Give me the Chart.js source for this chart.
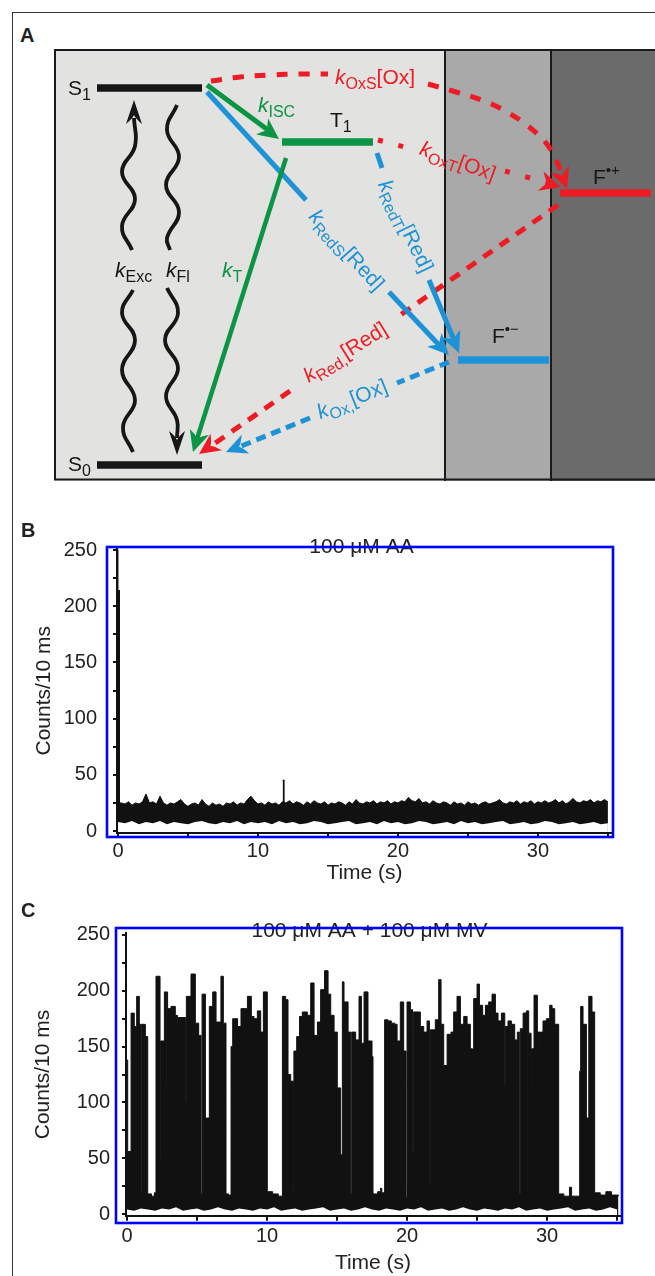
<!DOCTYPE html>
<html><head><meta charset="utf-8">
<script src="https://cdn.jsdelivr.net/npm/chart.js@4.4.1/dist/chart.umd.min.js"></script>
<style>
html,body{margin:0;padding:0;background:#fff;}
body{width:655px;height:1276px;position:relative;overflow:hidden;font-family:"Liberation Sans",Arial,sans-serif;}
#outer{position:absolute;left:12px;top:12px;width:700px;height:1300px;border-left:1.3px solid #333;border-top:1.3px solid #333;}
.lab{position:absolute;font-weight:bold;font-size:20px;line-height:20px;color:#222;z-index:5;}
canvas{position:absolute;}
</style></head><body>
<div id="outer"></div>
<canvas id="ca" width="601" height="432" style="left:54px;top:49px"></canvas>
<canvas id="cb" width="655" height="390" style="left:0;top:500px"></canvas>
<canvas id="cc" width="655" height="396" style="left:0;top:880px"></canvas>
<div class="lab" style="left:20px;top:25px">A</div>
<div class="lab" style="left:21px;top:520px">B</div>
<div class="lab" style="left:21px;top:900px">C</div>
<script>
// ================= DATA =================
// ---- Panel A: diagram (diagram coordinates, x to the right, y downward) ----
const zoneEdges = [54, 445, 551, 655];
const levelNames = ['S1', 'S0', 'T1', 'F•−', 'F•+'];
const levelStart = [97, 97, 282, 458, 560];
const levelEnd = [202, 202, 373, 549, 651];
const levelHeight = [88, 465, 142, 360, 193];

const excUpper = [[132,250],[122,226],[135,199],[122,172],[135,146],[134,118]];
const excLower = [[133,452],[123,427],[135,400],[122,370],[135,340],[122,313],[133,290]];
const flUpper = [[177,105],[167,130],[179,157],[166,185],[179,212],[167,238],[170,250]];
const flLower = [[167,288],[178,313],[165,340],[178,368],[166,396],[177,420],[177,438]];
const iscPath = [[207,85],[268,130]];
const tPath = [[286,158],[197,439]];
const redS1Path = [[207,92],[306,200]];
const redS2Path = [[389,292],[440,346]];
const redT1Path = [[377,153],[382,168]];
const redT2Path = [[429,280],[454,340]];
const oxPrime1Path = [[449,362],[397,383]];
const oxPrime2Path = [[310,418],[239,447]];
const redPrime1Path = [[558,205],[396,318]];
const redPrime2Path = [[290,391],[211,446]];
const oxS1Path = [[211,81],[240,77],[270,75],[300,74],[328,74]];
const oxS2Path = [[428,84],[456,92],[484,101],[507,112],[528,126],[546,143],[557,162],[562,175]];
const oxT1Path = [[378,140],[412,149]];
const oxT2Path = [[505,171],[548,183]];

const arrowFrom = [[134,130],[177,430],[207,85],[286,158],[389,292],[429,280],[449,362],[558,205],[557,162],[505,171]];
const arrowTip  = [[134,100],[177,455],[279,139],[193,452],[449,355],[459,353],[226,452],[199,454],[567,189],[561,187]];
const arrowHue  = ['k','k','g','g','b','b','b','r','r','r'];

const labelParts = [
  [['S','m'],['1','s']],
  [['S','m'],['0','s']],
  [['T','m'],['1','s']],
  [['F','m'],['•+','p']],
  [['F','m'],['•−','p']],
  [['k','i'],['Exc','s']],
  [['k','i'],['Fl','s']],
  [['k','i'],['ISC','s']],
  [['k','i'],['T','s']],
  [['k','i'],['OxS','s'],['[Ox]','m']],
  [['k','i'],['OxT','s'],['[Ox]','m']],
  [['k','i'],['RedS','s'],['[Red]','m']],
  [['k','i'],['RedT','s'],['[Red]','m']],
  [['k','i'],['Red,','s'],['[Red]','m']],
  [['k','i'],['Ox,','s'],['[Ox]','m']]
];
const labelX = [68, 68, 330, 593, 492, 115, 166, 258, 222, 335, 458, 347, 406, 345, 352];
const labelY = [95, 471, 127, 184, 343, 277, 277, 112, 277, 84, 161, 250, 226, 352, 399];
const labelAngle = [0,0,0,0,0,0,0,0,0,0,20,48,64,-32,-22];
const labelCentered = [0,0,0,0,0,0,0,0,0,0,1,1,1,1,1];
const labelHue = ['k','k','k','k','k','k','k','g','g','r','r','b','b','r','b'];

// ---- Panel B: 100 µM AA ----
const bTitle = '100 μM AA';
const bXTicks = [0,5,10,15,20,25,30,35];
const bXLabels = ['0','','10','','20','','30',''];
const bYTicks = [0,25,50,75,100,125,150,175,200,225,250];
const bYLabels = ['0','','50','','100','','150','','200','','250'];
const bStart = 0, bStep = 0.25;       // baseline trace sampled every 0.25 s
const bHigh = [25,25,24,26,23,25,24,26,33,25,
  26,24,31,25,23,25,24,26,28,24,
  22,24,25,23,28,24,22,25,23,24,
  22,25,24,26,23,25,24,28,31,27,
  24,25,23,26,24,25,23,26,25,27,
  24,26,25,23,26,24,27,25,24,26,
  23,25,24,26,25,23,26,24,28,25,
  24,26,25,27,24,26,25,27,24,26,
  25,27,26,30,27,26,29,25,26,24,
  27,25,24,26,25,23,26,24,25,23,
  26,24,25,23,25,26,24,25,26,28,
  25,24,26,25,27,24,26,25,27,24,
  26,25,27,25,26,28,25,27,24,26,
  29,26,25,27,26,28,25,27,26,28,
  26];
const bLowStep = 0.5;
const bLow = [8,7,9,6,8,7,9,6,8,7,
  6,8,9,7,6,8,7,9,6,8,
  7,8,6,9,7,8,6,7,9,8,
  6,7,8,9,6,7,8,6,9,7,
  8,6,7,9,8,6,7,8,6,9,
  7,8,6,7,8,9,6,7,8,6,
  7,9,8,6,7,8,6,7,8,6,
  7];
const bSpikeTime = [-0.1, -0.01, 0.1, 0.12, 11.76, 11.86, 11.88];
const bSpikeCounts = [250, 214, 24, null, 45, 22, null];

// ---- Panel C: 100 µM AA + 100 µM MV ----
const cTitle = '100 μM AA + 100 μM MV';
const cXTicks = [0,5,10,15,20,25,30,35];
const cXLabels = ['0','','10','','20','','30',''];
const cYTicks = [0,25,50,75,100,125,150,175,200,225,250];
const cYLabels = ['0','','50','','100','','150','','200','','250'];
const cTime = [
  -0.07,0.05,0.29,0.52,0.69,0.88,1.00,1.05,1.24,1.28,
  1.31,1.48,1.75,1.95,2.07,2.36,2.38,2.42,2.67,2.79,
  2.83,2.90,3.14,3.45,3.60,3.64,4.20,4.24,4.57,4.88,
  5.12,5.29,5.36,5.60,5.88,6.12,6.36,6.71,6.88,7.07,
  7.25,7.43,7.55,7.90,8.14,8.60,8.88,9.07,9.31,9.55,
  9.74,10.02,10.40,10.80,11.10,11.33,11.50,11.69,11.88,11.92,
  12.12,12.29,12.32,12.52,12.88,13.12,13.36,13.60,13.83,14.07,
  14.11,14.36,14.55,14.79,15.02,15.26,15.38,15.50,15.79,15.98,
  16.05,16.33,16.57,16.74,16.93,17.21,17.50,17.57,17.90,18.10,
  18.20,18.40,18.64,18.88,19.12,19.29,19.52,19.76,19.93,20.00,
  20.24,20.40,20.44,20.95,21.19,21.43,21.60,21.67,22.02,22.26,
  22.43,22.62,22.86,23.10,23.14,23.33,23.57,23.81,24.05,24.29,
  24.52,24.64,24.68,24.76,25.00,25.17,25.40,25.60,25.83,26.07,
  26.31,26.50,26.74,26.98,27.02,27.21,27.45,27.69,27.88,28.02,
  28.09,28.29,28.52,28.69,28.86,28.90,29.07,29.31,29.50,29.54,
  29.71,29.95,30.19,30.36,30.55,30.83,31.20,31.60,31.75,32.33,
  32.40,32.57,32.81,32.98,33.21,33.40,33.80,34.20,34.60,35.10];
const cCounts = [
  138,56,180,168,195,170,20,170,30,170,
  159,18,16,19,213,155,50,155,199,118,
  199,184,186,178,83,176,101,195,215,171,
  160,18,197,86,186,199,172,213,171,18,
  17,150,175,168,184,195,177,175,182,163,
  199,20,18,16,195,192,125,119,20,146,
  159,30,177,181,178,207,160,172,201,77,
  218,197,178,163,113,53,208,190,163,18,
  163,156,195,153,199,155,141,18,20,23,
  19,174,173,171,170,155,190,146,15,190,
  183,56,181,168,163,173,26,165,174,210,
  170,133,161,65,163,181,195,170,177,170,
  148,65,148,193,206,187,178,187,190,197,
  180,173,180,116,168,173,170,156,163,18,
  166,180,182,162,116,148,196,163,146,163,
  173,175,187,184,170,18,16,24,16,128,
  186,170,86,195,181,19,17,20,17,16];
const cLowStep = 0.5;
const cLow = [4,3,5,4,3,5,4,6,3,4,
  5,3,4,6,4,3,5,4,3,5,
  4,6,3,4,5,3,4,5,6,3,
  4,5,3,4,6,4,3,5,4,3,
  5,4,6,3,4,5,3,4,6,4,
  3,5,4,3,5,4,6,3,4,5,
  3,4,5,6,3,4,5,3,4,6,
  4];

// ================= STYLE / RENDER =================
const FONT = '"Liberation Sans", Arial, Helvetica, sans-serif';
Chart.defaults.font.family = FONT;
Chart.defaults.color = '#222';
const HUE = {k:'#161616', r:'#ed1c24', g:'#0b9444', b:'#1e92d6'};
const levelHue = ['k','k','g','b','r'];
const zoneFill = ['#e2e2e0','#a9a9a9','#6b6b6b'];

function P(arr){ return arr.map(p => ({x:p[0], y:p[1]})); }
function path(arr, hue, w, extra){
  return Object.assign({data:P(arr), borderColor:HUE[hue], borderWidth:w, pointRadius:0, pointHoverRadius:0, fill:false, tension:0, borderCapStyle:'butt'}, extra||{});
}
const styleFont = {i:'italic 21px '+FONT, m:'21px '+FONT, s:'16px '+FONT, p:'15px '+FONT};
const styleDy = {i:0, m:0, s:5, p:-9};
function drawRich(ctx, parts, x, y, angle, color, centered){
  ctx.save(); ctx.translate(x,y); ctx.rotate(angle*Math.PI/180);
  ctx.fillStyle = color; ctx.textBaseline = 'alphabetic'; ctx.textAlign = 'left';
  let w = 0;
  for (const [t,s] of parts){ ctx.font = styleFont[s]; w += ctx.measureText(t).width; }
  let cx = centered ? -w/2 : 0; const by = centered ? 7 : 0;
  for (const [t,s] of parts){ ctx.font = styleFont[s]; ctx.fillText(t, cx, by + styleDy[s]); cx += ctx.measureText(t).width; }
  ctx.restore();
}
function arrowHead(ctx, f, t, color, L, W, N){
  const dx = t[0]-f[0], dy = t[1]-f[1], len = Math.hypot(dx,dy);
  const ux = dx/len, uy = dy/len, nx = -uy, ny = ux;
  ctx.beginPath();
  ctx.moveTo(t[0], t[1]);
  ctx.lineTo(t[0]-ux*L+nx*W, t[1]-uy*L+ny*W);
  ctx.quadraticCurveTo(t[0]-ux*(L-N*0.6)+nx*W*0.2, t[1]-uy*(L-N*0.6)+ny*W*0.2, t[0]-ux*(L-N), t[1]-uy*(L-N));
  ctx.quadraticCurveTo(t[0]-ux*(L-N*0.6)-nx*W*0.2, t[1]-uy*(L-N*0.6)-ny*W*0.2, t[0]-ux*L-nx*W, t[1]-uy*L-ny*W);
  ctx.closePath(); ctx.fillStyle = color; ctx.fill();
}

const diagramPlugin = {
  id:'diagram',
  beforeDatasetsDraw(chart){
    const {ctx, scales:{x, y}} = chart;
    const top = y.getPixelForValue(49), bot = y.getPixelForValue(481);
    ctx.save();
    for (let i = 0; i < zoneFill.length; i++){
      const a = x.getPixelForValue(zoneEdges[i]), b = x.getPixelForValue(zoneEdges[i+1]);
      ctx.fillStyle = zoneFill[i]; ctx.fillRect(a, top, b-a, bot-top);
    }
    ctx.strokeStyle = '#1a1a1a'; ctx.lineWidth = 2;
    for (let i = 1; i < zoneEdges.length-1; i++){
      const a = x.getPixelForValue(zoneEdges[i]);
      ctx.beginPath(); ctx.moveTo(a, top); ctx.lineTo(a, bot); ctx.stroke();
    }
    ctx.restore();
  },
  afterDatasetsDraw(chart){
    const {ctx, scales:{x, y}} = chart;
    const px = p => [x.getPixelForValue(p[0]), y.getPixelForValue(p[1])];
    ctx.save();
    for (let i = 0; i < arrowTip.length; i++){
      const black = arrowHue[i] === 'k';
      arrowHead(ctx, px(arrowFrom[i]), px(arrowTip[i]), HUE[arrowHue[i]], black?24:21, black?8:10, black?9:7);
    }
    for (let i = 0; i < labelParts.length; i++){
      const p = px([labelX[i], labelY[i]]);
      drawRich(ctx, labelParts[i], p[0], p[1], labelAngle[i], HUE[labelHue[i]], labelCentered[i]);
    }
    ctx.restore();
  },
  afterDraw(chart){
    const {ctx, width, height} = chart;
    ctx.save(); ctx.strokeStyle = '#1a1a1a'; ctx.lineWidth = 2;
    ctx.strokeRect(1, 1, width + 20, height - 2.5);
    ctx.restore();
  }
};

const aDatasets = [];
for (let i = 0; i < levelNames.length; i++){
  aDatasets.push(path([[levelStart[i], levelHeight[i]],[levelEnd[i], levelHeight[i]]], levelHue[i], 7.5));
}
aDatasets.push(path(excUpper,'k',3.8,{tension:0.45}));
aDatasets.push(path(excLower,'k',3.8,{tension:0.45}));
aDatasets.push(path(flUpper,'k',3.8,{tension:0.45}));
aDatasets.push(path(flLower,'k',3.8,{tension:0.45}));
aDatasets.push(path(iscPath,'g',5));
aDatasets.push(path(tPath,'g',4.5));
aDatasets.push(path(redS1Path,'b',5));
aDatasets.push(path(redS2Path,'b',5));
aDatasets.push(path(redT1Path,'b',5));
aDatasets.push(path(redT2Path,'b',5));
aDatasets.push(path(oxPrime1Path,'b',5,{borderDash:[10,6]}));
aDatasets.push(path(oxPrime2Path,'b',5,{borderDash:[10,6]}));
aDatasets.push(path(redPrime1Path,'r',5,{borderDash:[11,9]}));
aDatasets.push(path(redPrime2Path,'r',5,{borderDash:[11,9]}));
aDatasets.push(path(oxS1Path,'r',5,{borderDash:[11,11], tension:0.4}));
aDatasets.push(path(oxS2Path,'r',5,{borderDash:[11,11], tension:0.4}));
aDatasets.push(path(oxT1Path,'r',5,{borderDash:[5,16]}));
aDatasets.push(path(oxT2Path,'r',5,{borderDash:[5,16]}));

new Chart(document.getElementById('ca'), {
  type:'line',
  data:{datasets:aDatasets},
  options:{
    responsive:false, animation:false, events:[], devicePixelRatio:1,
    layout:{padding:0},
    scales:{
      x:{type:'linear', min:zoneEdges[0], max:zoneEdges[3], display:false},
      y:{type:'linear', min:49, max:481, reverse:true, display:false}
    },
    plugins:{legend:{display:false}, tooltip:{enabled:false}}
  },
  plugins:[diagramPlugin]
});

// ---------- trace panels ----------
const deco = {
  id:'deco',
  afterDraw(chart, args, o){
    const {ctx, chartArea:a} = chart;
    ctx.save();
    ctx.font = '21px ' + FONT; ctx.fillStyle = '#222'; ctx.textAlign = 'center'; ctx.textBaseline = 'alphabetic';
    ctx.fillText(o.title, (a.left + a.right)/2 + o.titleDx, a.top + o.titleDy);
    ctx.strokeStyle = '#0000ff'; ctx.lineWidth = 2.6;
    const l = a.left + o.frame[0], t = a.top + o.frame[1], r = a.right + o.frame[2], b = a.bottom + o.frame[3];
    ctx.strokeRect(l, t, r - l, b - t);
    ctx.restore();
  }
};
function pts(xs, ys){ return xs.map((x,i) => ({x:x, y:ys[i]})); }
function sampled(start, step, ys){ return ys.map((y,i) => ({x:+(start + i*step).toFixed(3), y:y})); }

function tracePanel(id, o){
  return new Chart(document.getElementById(id), {
    type:'line',
    data:{datasets:o.datasets},
    options:{
      responsive:false, animation:false, events:[], devicePixelRatio:1,
      layout:{padding:{left:0, top:o.padTop, right:o.padRight, bottom:0}},
      plugins:{legend:{display:false}, tooltip:{enabled:false},
        deco:{title:o.title, frame:o.frame, titleDx:o.titleDx, titleDy:o.titleDy}},
      scales:{
        x:{type:'linear', min:o.xMin, max:o.xMax,
          afterFit:s => { s.height = o.xAxisH; },
          afterBuildTicks:s => { s.ticks = o.xTicks.map(v => ({value:v})); },
          ticks:{autoSkip:false, maxRotation:0, minRotation:0, padding:o.xPad, font:{size:20}, color:'#222',
            callback:(v,i) => o.xLabels[i]},
          grid:{drawOnChartArea:false, drawTicks:true, tickLength:o.xTick, color:'#111', lineWidth:2, z:1},
          border:{display:true, color:'#111', width:2, z:1},
          title:{display:true, text:'Time (s)', font:{size:21}, color:'#222', padding:{top:0, bottom:o.xTitlePad}}},
        y:{type:'linear', min:o.yMin, max:o.yMax,
          afterFit:s => { s.width = o.yAxisW; },
          afterBuildTicks:s => { s.ticks = o.yTicks.map(v => ({value:v})); },
          ticks:{autoSkip:false, padding:o.yPad, font:{size:20}, color:'#222',
            callback:(v,i) => o.yLabels[i]},
          grid:{drawOnChartArea:false, drawTicks:true, tickLength:4, color:'#111', lineWidth:2, z:1},
          border:{display:true, color:'#111', width:2, z:1},
          title:{display:true, text:'Counts/10 ms', font:{size:21}, color:'#222', padding:{top:o.yTitlePad, bottom:0}}}
      }
    },
    plugins:[deco]
  });
}

const black = '#111';
tracePanel('cb', {
  datasets:[
    {data:sampled(bStart, bStep, bHigh), borderColor:black, borderWidth:1, backgroundColor:black, fill:{value:-1.3}, pointRadius:0, order:2},
    {data:pts(bSpikeTime, bSpikeCounts), stepped:true, borderColor:black, borderWidth:1.2, backgroundColor:black, fill:{value:-1.3}, pointRadius:0, order:2},
    {data:sampled(bStart, bLowStep, bLow), borderWidth:0, borderColor:'rgba(0,0,0,0)', backgroundColor:'#fff', fill:{value:-1.3}, pointRadius:0, order:1}
  ],
  title:bTitle, titleDx:-3, titleDy:4, frame:[-10,-2,1,4.5],
  padTop:49, padRight:43, xAxisH:57.5, yAxisW:117,
  xMin:-1/14, xMax:35.29, yMin:-1.3, yMax:250.9,
  xTicks:bXTicks, xLabels:bXLabels, yTicks:bYTicks, yLabels:bYLabels,
  xPad:3, xTick:4, yPad:16, xTitlePad:4, yTitlePad:32
});

tracePanel('cc', {
  datasets:[
    {data:pts(cTime, cCounts), stepped:true, borderColor:black, borderWidth:1, backgroundColor:black, fill:{value:-1.5}, pointRadius:0, order:2},
    {data:sampled(0, cLowStep, cLow), borderWidth:0, borderColor:'rgba(0,0,0,0)', backgroundColor:'#fff', fill:{value:-1.5}, pointRadius:0, order:1}
  ],
  title:cTitle, titleDx:-3.5, titleDy:3.5, frame:[-10,-5.3,2,7.3],
  padTop:53.3, padRight:35, xAxisH:60.3, yAxisW:126,
  xMin:-1/14, xMax:35.21, yMin:-1.5, yMax:251.5,
  xTicks:cXTicks, xLabels:cXLabels, yTicks:cYTicks, yLabels:cYLabels,
  xPad:4, xTick:5, yPad:12, xTitlePad:0.5, yTitlePad:31
});
</script>
</body></html>
